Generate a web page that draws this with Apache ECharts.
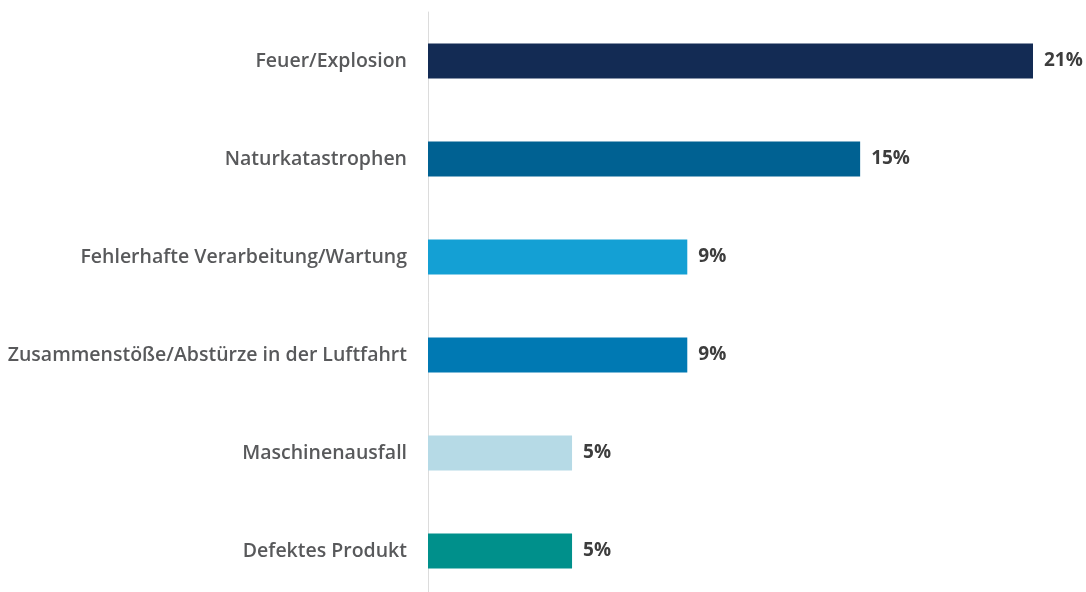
<!DOCTYPE html>
<html>
<head>
<meta charset="utf-8">
<style>
  html, body { margin: 0; padding: 0; background: #fff; }
  #chart { width: 1086px; height: 592px; }
</style>
<script src="https://cdn.jsdelivr.net/npm/echarts@6/dist/echarts.min.js"></script>
</head>
<body>
<div id="chart"></div>
<script>
const categories = [
  "Feuer/Explosion",
  "Naturkatastrophen",
  "Fehlerhafte Verarbeitung/Wartung",
  "Zusammenstöße/Abstürze in der Luftfahrt",
  "Maschinenausfall",
  "Defektes Produkt",
];
const values = [21, 15, 9, 9, 5, 5];
const barColors = ["#132b54", "#006192", "#14a0d4", "#0079b3", "#b6dae6", "#00908b"];

const chart = echarts.init(document.getElementById("chart"));

const option = {
  animation: false,
  grid: {
    left: 428,
    top: 12,
    width: 605,
    height: 588,
    outerBoundsMode: "none",
    containLabel: false,
  },
  xAxis: {
    type: "value",
    min: 0,
    max: 21,
    show: false,
  },
  yAxis: {
    type: "category",
    data: categories,
    inverse: true,
    axisLine: { show: true, lineStyle: { color: "#dcdcdc", width: 1 } },
    axisTick: { show: false },
    axisLabel: {
      margin: 21,
      color: "#58595b",
      fontFamily: "Open Sans",
      fontWeight: 600,
      fontSize: 19.5,
    },
  },
  series: [
    {
      type: "bar",
      barWidth: 35,
      data: values.map((v, i) => ({ value: v, itemStyle: { color: barColors[i] } })),
      label: {
        show: true,
        position: "right",
        distance: 11,
        formatter: (p) => `${p.value}%`,
        color: "#3d3d3d",
        fontFamily: "Open Sans",
        fontWeight: 700,
        fontSize: 19,
      },
    },
  ],
};

chart.setOption(option);
</script>
</body>
</html>
